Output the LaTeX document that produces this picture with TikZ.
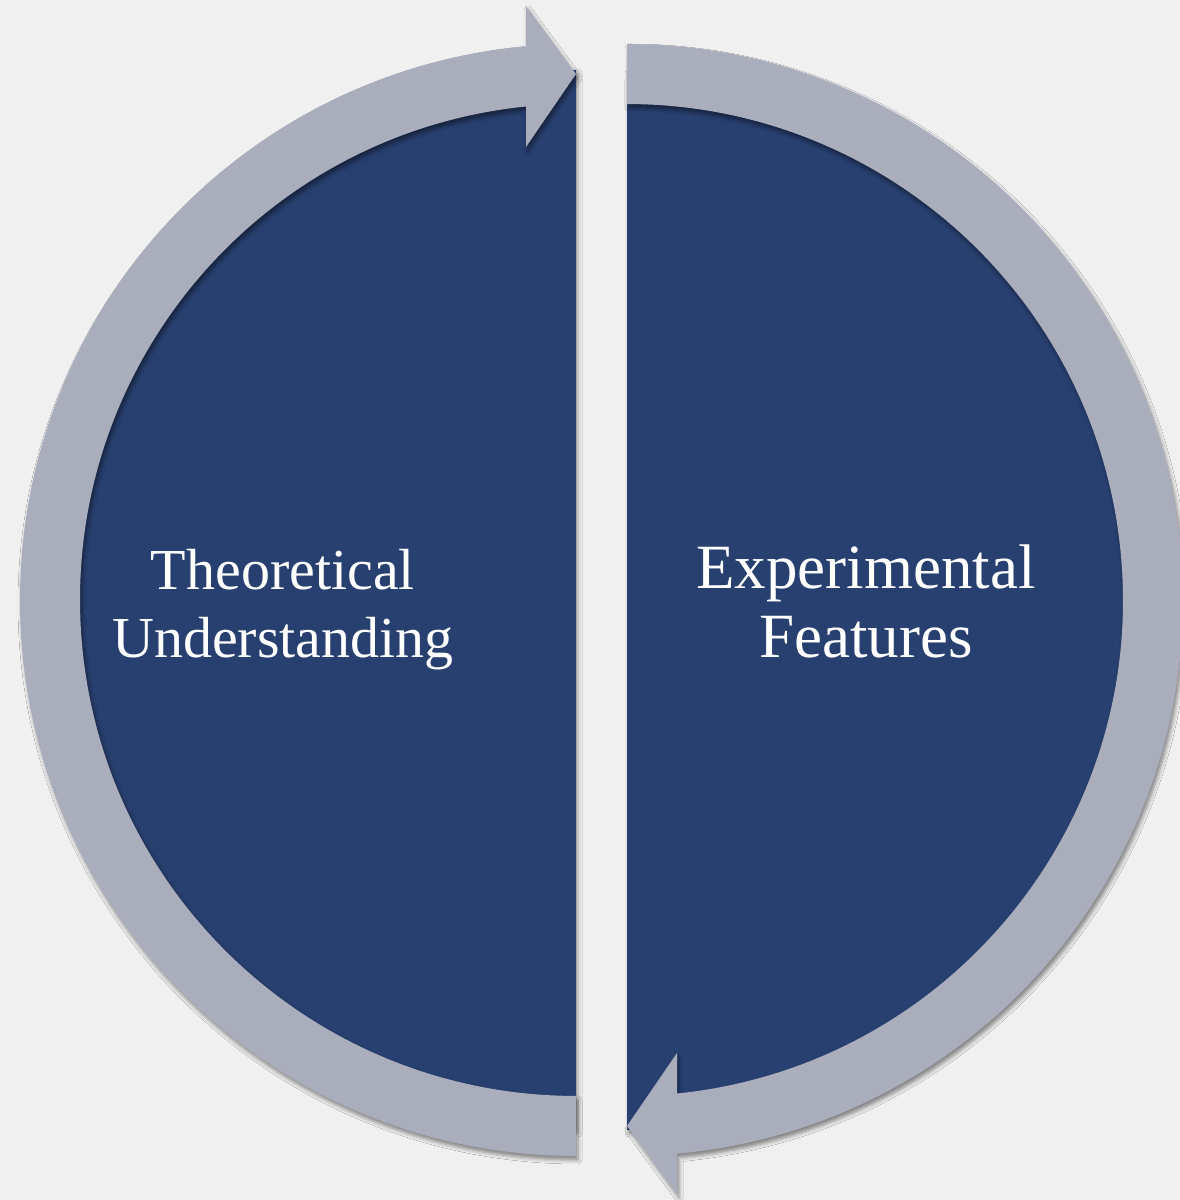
\documentclass[tikz,border=0pt]{standalone}
\usepackage{fontspec}
\setmainfont{Liberation Serif}
\usetikzlibrary{shadows.blur}

\definecolor{halfblue}{RGB}{40,64,112}
\definecolor{ringgrey}{RGB}{169,173,188}
\definecolor{paper}{RGB}{240,240,240}

\begin{document}
\begin{tikzpicture}[x=1pt, y=1pt,
    half/.style={fill=halfblue,
      blur shadow={shadow xshift=2pt, shadow yshift=-3pt, shadow blur radius=4pt, shadow opacity=35}},
    ring/.style={fill=ringgrey,
      blur shadow={shadow xshift=2pt, shadow yshift=-4pt, shadow blur radius=4pt, shadow opacity=45}},
    caption/.style={text=white, align=center, font=\fontsize{58}{68}\selectfont}]
  \fill[paper] (0,0) rectangle (1180,1200);
  \useasboundingbox (0,0) rectangle (1180,1200);

  % Left: half disc, ring runs up round the left side, head at the top
  \path[half] (576,70) arc[start angle=270, end angle=90, radius=530] -- cycle;
  \path[ring] (576,44) arc[start angle=270, end angle=95.16, radius=556]
    -- (526,1194) -- (576,1126) -- (526,1053) -- (526,1093.5)
    arc[start angle=95.79, end angle=270, radius=496] -- cycle;
  \node[caption, anchor=base] (tu) at (283,542) {Theoretical\\Understanding};

  % Right: half disc, ring runs down round the right side, head at the bottom
  \path[half] (627,1130) arc[start angle=90, end angle=-90, radius=530] -- cycle;
  \path[ring] (627,1156) arc[start angle=90, end angle=-84.84, radius=556]
    -- (677,6) -- (627,74) -- (677,147) -- (677,106.5)
    arc[start angle=-84.21, end angle=90, radius=496] -- cycle;
  \node[caption, anchor=base, font=\fontsize{63}{69}\selectfont] (ef) at (866,542)
    {Experimental\\Features};
\end{tikzpicture}
\end{document}
